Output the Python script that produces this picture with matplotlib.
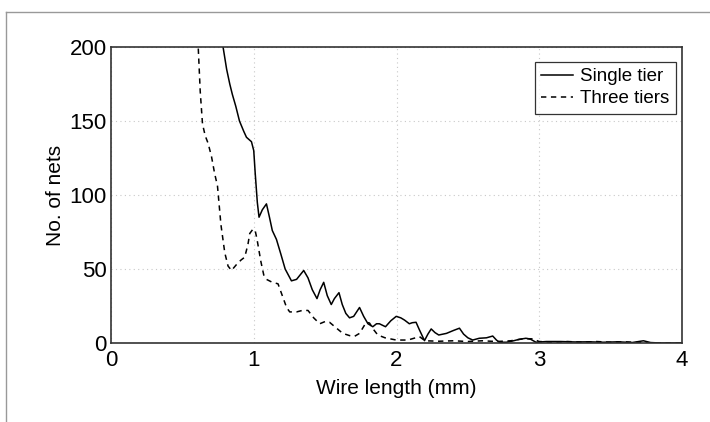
import matplotlib
matplotlib.use("Agg")
import matplotlib.pyplot as plt
from matplotlib.lines import Line2D

plt.rcParams['font.family'] = ['Liberation Sans', 'DejaVu Sans']

# Single tier (solid)
single_x = [0.75, 0.785, 0.81, 0.832, 0.85, 0.874, 0.90, 0.93, 0.949, 0.984, 1.0,
            1.01, 1.025, 1.037, 1.06, 1.089, 1.11, 1.13, 1.159, 1.19, 1.22, 1.264,
            1.30, 1.35, 1.38, 1.41, 1.443, 1.465, 1.49, 1.515, 1.543, 1.565, 1.597,
            1.62, 1.645, 1.671, 1.70, 1.741, 1.77, 1.80, 1.834, 1.86, 1.88, 1.923,
            1.96, 1.998, 2.03, 2.056, 2.09, 2.11, 2.137, 2.16, 2.196, 2.22, 2.243,
            2.27, 2.296, 2.35, 2.40, 2.441, 2.47, 2.50, 2.534, 2.58, 2.63, 2.674,
            2.70, 2.72, 2.77, 2.82, 2.86, 2.907, 2.94, 2.977, 3.05, 3.15, 3.25,
            3.35, 3.45, 3.55, 3.65, 3.73, 3.78, 3.85, 4.0]
single_y = [230, 200, 185, 175, 168, 160, 150, 143, 139, 136, 130,
            115, 95, 85, 90, 94, 85, 76, 70, 60, 50, 42,
            43, 49, 44, 36, 30, 36, 41, 32, 26, 30, 34,
            26, 20, 17, 18, 24, 18, 13, 11, 13, 13, 11,
            15, 18, 17, 15.5, 13, 13.7, 14, 9, 1.6, 6, 9.5,
            7, 5.4, 6.5, 8.5, 10, 6, 3.5, 2, 3.2, 3.5, 4.7,
            2, 0.5, 0.5, 1.5, 2.5, 3.2, 2.5, 0.5, 1, 1, 0.7,
            0.8, 0.5, 0.8, 0.3, 1.5, 0.3, 0, 0]

# Three tiers (dashed)
three_x = [0.59, 0.611, 0.625, 0.641, 0.66, 0.68, 0.704, 0.725, 0.746, 0.77, 0.797,
           0.82, 0.844, 0.879, 0.91, 0.937, 0.96, 0.972, 0.995, 1.01, 1.023, 1.05,
           1.07, 1.089, 1.13, 1.17, 1.20, 1.23, 1.252, 1.30, 1.34, 1.38, 1.42,
           1.462, 1.50, 1.531, 1.58, 1.624, 1.671, 1.706, 1.741, 1.788, 1.811,
           1.84, 1.869, 1.92, 1.998, 2.08, 2.161, 2.2, 2.3, 2.4, 2.5, 2.6, 2.7,
           2.8, 2.9, 2.95, 3.0, 3.1, 3.2, 3.3, 3.4, 3.5, 3.6, 3.7, 3.8, 4.0]
three_y = [240, 200, 170, 148, 140, 135, 126, 115, 106, 80, 61,
           52, 49, 53, 56, 58, 67, 74, 77, 76, 70, 55,
           46, 43, 41, 40, 32, 24, 21, 21, 22, 22, 17,
           13, 14.5, 14, 10, 6.5, 5, 4.5, 6.5, 14, 13.5,
           9, 5.4, 3.5, 2, 2, 4.3, 1.5, 1.2, 1.5, 1, 1.5, 1,
           1.5, 3, 2.8, 1, 0.5, 1, 0.5, 1, 0.5, 0.8, 0.3, 0, 0]

fig = plt.figure(figsize=(7.1, 4.22), dpi=100)
ax = fig.add_axes([111 / 710, 1 - 343 / 422, 571 / 710, 296 / 422])

ax.plot(single_x, single_y, color='black', linewidth=1.1, label='Single tier')
ax.plot(three_x, three_y, color='black', linewidth=1.1, linestyle=(0, (3.5, 3)),
        label='Three tiers')

ax.set_xlim(0, 4)
ax.set_ylim(0, 200)
ax.set_xticks([0, 1, 2, 3, 4])
ax.set_yticks([0, 50, 100, 150, 200])
ax.tick_params(axis='x', length=0, labelsize=16, pad=5)
ax.tick_params(axis='y', length=0, labelsize=16, pad=3)
ax.grid(True, color='#c8c8c8', linestyle=(0, (1, 3)), linewidth=0.8)
for s in ax.spines.values():
    s.set_color('#333333')
    s.set_linewidth(1.2)

ax.set_xlabel('Wire length (mm)', fontsize=15, labelpad=6)
ax.set_ylabel('No. of nets', fontsize=15, labelpad=3)

leg = ax.legend(loc='upper right', fontsize=13.5, frameon=True, fancybox=False,
                handlelength=1.7, handletextpad=0.4, borderpad=0.35,
                labelspacing=0.25, borderaxespad=0, bbox_to_anchor=(0.99, 0.95))
leg.get_frame().set_edgecolor('black')
leg.get_frame().set_linewidth(0.9)

# thin grey frame around the panel
fig.add_artist(Line2D([6 / 710, 1], [1 - 12 / 422, 1 - 12 / 422], color='#999999', linewidth=1.0))
fig.add_artist(Line2D([6 / 710, 6 / 710], [0, 1 - 12 / 422], color='#999999', linewidth=1.0))

fig.savefig('out.png', dpi=100)
